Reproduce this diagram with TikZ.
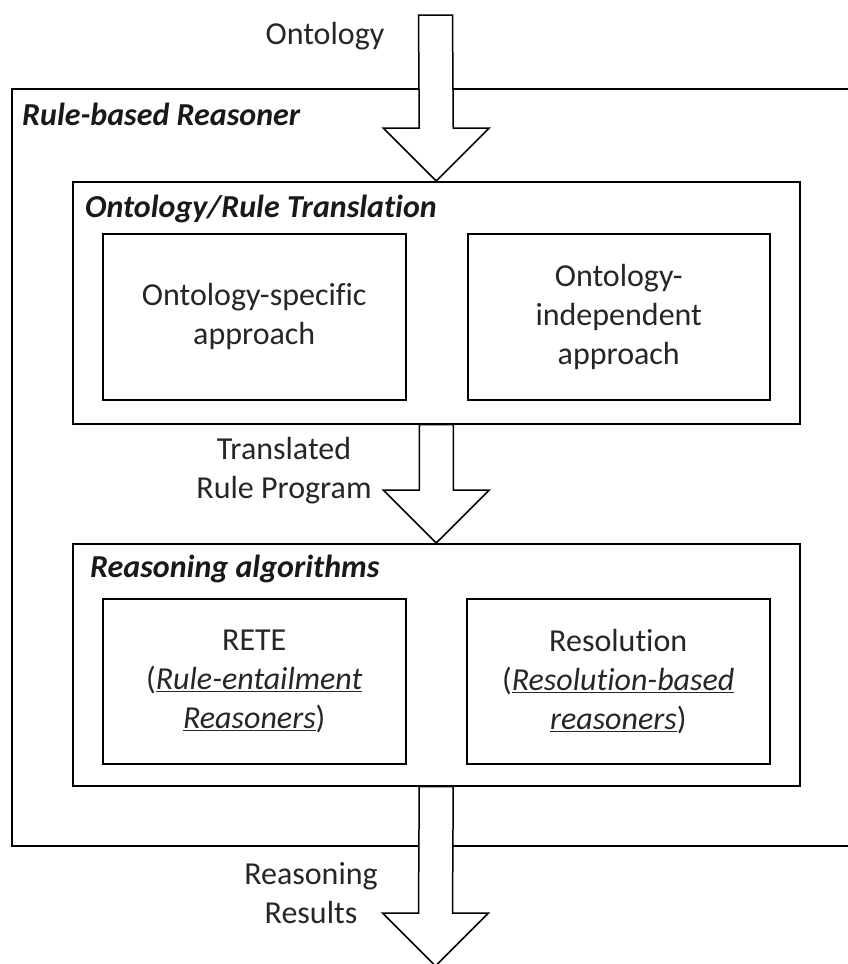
\documentclass[tikz,border=0pt]{standalone}
\usepackage{fontspec}
\setmainfont{Carlito}[Ligatures={NoCommon}]
\usetikzlibrary{calc}
\newcommand{\blkarrow}[2]{%
  \draw[arr] ($(#1)+(-17,0)$) -- ($(#1)+(17,0)$) -- ($(#2)+(17,-53)$) -- ($(#2)+(53,-53)$)
    -- (#2) -- ($(#2)+(-53,-53)$) -- ($(#2)+(-17,-53)$) -- cycle;}
\begin{document}
\begin{tikzpicture}[x=1pt,y=-1pt,
  box/.style={draw, line width=1.5pt, anchor=north west, inner sep=0pt, align=center,
    text=black!85, font=\fontsize{32}{39}\selectfont},
  lbl/.style={inner sep=0pt, align=center, text=black!85, font=\fontsize{32}{39}\selectfont},
  ttl/.style={inner sep=0pt, anchor=base west, text=black!90, font=\fontsize{32}{39}\selectfont\bfseries\itshape},
  arr/.style={draw, fill=white, line width=1.5pt, line join=miter}]
\useasboundingbox (0,0) rectangle (848,964);
% outer container (right side runs off the picture)
\draw[line width=1.5pt] (850,89) -- (12,89) -- (12,846) -- (850,846);
\node[ttl] (rbr) at (22,125) {Rule-based Reasoner};
% translation box
\node[box, minimum width=727pt, minimum height=242pt] (trans) at (72,181) {};
\node[ttl] (transt) at (85,217) {Ontology/Rule Translation};
\node[box, minimum width=303pt, minimum height=166pt] (spec) at (102,233) {Ontology-specific\\approach};
\node[box, minimum width=302pt, minimum height=166pt] (indep) at (467,233) {Ontology-\\independent\\approach};
% reasoning box
\node[box, minimum width=727pt, minimum height=242pt] (reas) at (72,543) {};
\node[ttl] (reast) at (90,577) {Reasoning algorithms};
\node[box, minimum width=303pt, minimum height=165pt] (rete) at (102,598)
  {RETE\\(\underline{\textit{Rule-entailment}}\\\underline{\textit{Reasoners}})};
\node[box, minimum width=303pt, minimum height=165pt] (reso) at (466,598)
  {Resolution\\(\underline{\textit{Resolution-based}}\\\underline{\textit{reasoners}})};
% arrows
\coordinate (in) at (435.5,15);
\coordinate (out) at (435.5,966);
\blkarrow{in}{trans.north}
\blkarrow{trans.south}{reas.north}
\blkarrow{reas.south}{out}
% labels
\node[lbl, anchor=base] (ont) at (325,44) {Ontology};
\node[lbl] (trp) at (284,471) {Translated\\Rule Program};
\node[lbl] (rr) at (311,893) {Reasoning\\Results};
\end{tikzpicture}
\end{document}
